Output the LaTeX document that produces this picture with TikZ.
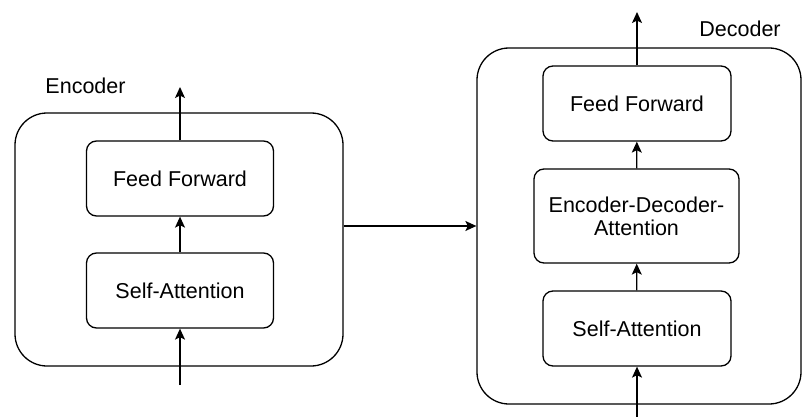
\documentclass[tikz,border=0pt]{standalone}
\usepackage{fontspec}
\setmainfont{Liberation Sans}
\usetikzlibrary{arrows.meta}
\begin{document}
\begin{tikzpicture}[x=1pt, y=-1pt, line width=1.3pt, line join=round,
		font=\fontsize{21.5}{25}\selectfont, >={Stealth[length=11pt,width=10pt,inset=2.5pt]},
		outer/.style={draw, rounded corners=32pt, minimum width=#1, inner sep=0pt},
		block/.style={draw, rounded corners=10pt, minimum width=187pt, minimum height=75pt, align=center, inner sep=0pt}]
		\useasboundingbox (0,0) rectangle (803,417);
		% encoder
		\node[outer=328pt, minimum height=253pt] (enc) at (179,239.5) {};
		\node[block] (encFF) at (180,178.5) {Feed Forward};
		\node[block] (encSA) at (180,290.5) {Self-Attention};
		\node (encLab) at (85.5,86) {Encoder};
		\coordinate (encIn) at (180,385); \coordinate (encOut) at (180,87);
		\draw[->] (encIn)--(encSA.south); \draw[->] (encSA)--(encFF); \draw[->] (encFF.north)--(encOut);
		% decoder
		\node[outer=324pt, minimum height=356pt] (dec) at (639,226) {};
		\node[block, minimum width=188pt] (decFF) at (637,103.5) {Feed Forward};
		\node[block, minimum width=205pt, minimum height=94pt] (decEDA) at (636.5,216) {Encoder-Decoder-\\[-2pt]Attention};
		\node[block, minimum width=188pt] (decSA) at (637,328.5) {Self-Attention};
		\node (decLab) at (740,29) {Decoder};
		\coordinate (decIn) at (637,417); \coordinate (decOut) at (637,12);
		\draw[->] (decIn)--(decSA.south); \draw[->] (decSA)--(decEDA); \draw[->] (decEDA)--(decFF); \draw[->] (decFF.north)--(decOut);
		% encoder to decoder
		\draw[->] (enc.east |- dec.west)--(dec.west);
\end{tikzpicture}
\end{document}
